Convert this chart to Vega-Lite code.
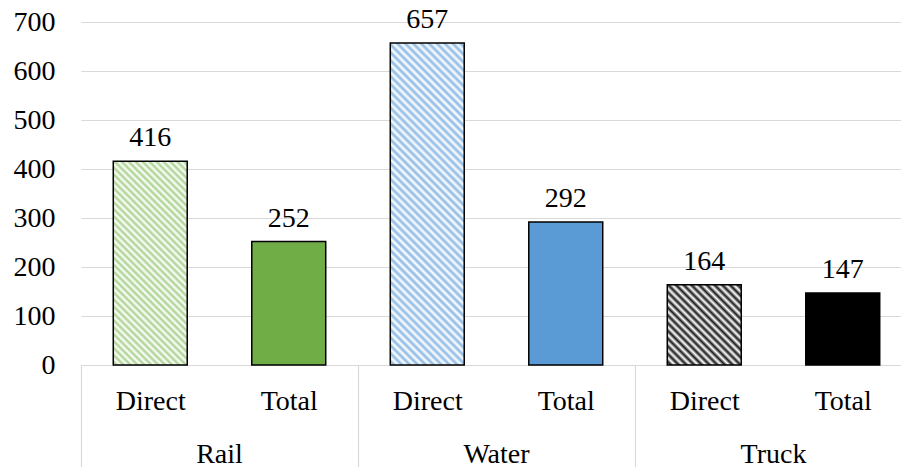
{
  "$schema": "https://vega.github.io/schema/vega-lite/v6.json",
  "autosize": {"type": "none"},
  "width": 820,
  "height": 343,
  "padding": {"left": 81, "top": 22, "right": 0, "bottom": 102},
  "background": "#ffffff",
  "config": {
    "font": "Liberation Serif, Times New Roman, serif",
    "view": {"stroke": null},
    "axis": {"labelFont": "Liberation Serif, Times New Roman, serif", "labelColor": "#000000", "labelFontSize": 28},
    "text": {"font": "Liberation Serif, Times New Roman, serif"}
  },
  "data": {
    "values": [
      {"mode": "Rail", "type": "Direct", "key": "Rail-Direct", "value": 416},
      {"mode": "Rail", "type": "Total", "key": "Rail-Total", "value": 252},
      {"mode": "Water", "type": "Direct", "key": "Water-Direct", "value": 657},
      {"mode": "Water", "type": "Total", "key": "Water-Total", "value": 292},
      {"mode": "Truck", "type": "Direct", "key": "Truck-Direct", "value": 164},
      {"mode": "Truck", "type": "Total", "key": "Truck-Total", "value": 147}
    ]
  },
  "resolve": {"scale": {"x": "independent"}, "axis": {"x": "independent"}},
  "layer": [
    {
      "mark": {"type": "bar", "stroke": "#000000", "strokeWidth": 1.5},
      "encoding": {
        "x": {
          "field": "mode", "type": "nominal", "sort": ["Rail", "Water", "Truck"],
          "scale": {"domain": ["Rail", "Water", "Truck"], "range": [0, 831], "paddingInner": 0, "paddingOuter": 0},
          "axis": {"orient": "bottom", "title": null, "ticks": true, "tickSize": 102, "tickColor": "#d9d9d9", "tickWidth": 1.2, "bandPosition": 0, "domainColor": "#d9d9d9", "domainWidth": 1.2, "labelPadding": -5, "labelBaseline": "alphabetic", "labelAngle": 0, "grid": false, "labelFont": "Liberation Serif, Times New Roman, serif", "labelFontSize": 28, "labelColor": "#000000", "labelExpr": "datum.label"}
        },
        "xOffset": {
          "field": "type", "type": "nominal",
          "scale": {"domain": ["Direct", "Total"], "paddingInner": 0.466, "paddingOuter": 0.233}
        },
        "y": {
          "field": "value", "type": "quantitative",
          "scale": {"domain": [0, 700], "nice": false},
          "axis": {"title": null, "values": [0, 100, 200, 300, 400, 500, 600, 700], "grid": true, "gridColor": "#d9d9d9", "gridWidth": 1.2, "domain": false, "ticks": false, "labelPadding": 26, "labelFont": "Liberation Serif, Times New Roman, serif", "labelFontSize": 28, "labelColor": "#000000", "labelExpr": "datum.label"}
        },
        "fill": {
          "condition": [
            {"test": "datum.mode === 'Rail' && datum.type === 'Direct'", "value": {"gradient": "linear", "x1": 0, "y1": 1, "x2": 0.4372, "y2": -0.2043, "stops": [{"offset":0,"color":"#fff"},{"offset":0.0125,"color":"#a9d18e"},{"offset":0.025,"color":"#fff"},{"offset":0.0375,"color":"#a9d18e"},{"offset":0.05,"color":"#fff"},{"offset":0.0625,"color":"#a9d18e"},{"offset":0.075,"color":"#fff"},{"offset":0.0875,"color":"#a9d18e"},{"offset":0.1,"color":"#fff"},{"offset":0.1125,"color":"#a9d18e"},{"offset":0.125,"color":"#fff"},{"offset":0.1375,"color":"#a9d18e"},{"offset":0.15,"color":"#fff"},{"offset":0.1625,"color":"#a9d18e"},{"offset":0.175,"color":"#fff"},{"offset":0.1875,"color":"#a9d18e"},{"offset":0.2,"color":"#fff"},{"offset":0.2125,"color":"#a9d18e"},{"offset":0.225,"color":"#fff"},{"offset":0.2375,"color":"#a9d18e"},{"offset":0.25,"color":"#fff"},{"offset":0.2625,"color":"#a9d18e"},{"offset":0.275,"color":"#fff"},{"offset":0.2875,"color":"#a9d18e"},{"offset":0.3,"color":"#fff"},{"offset":0.3125,"color":"#a9d18e"},{"offset":0.325,"color":"#fff"},{"offset":0.3375,"color":"#a9d18e"},{"offset":0.35,"color":"#fff"},{"offset":0.3625,"color":"#a9d18e"},{"offset":0.375,"color":"#fff"},{"offset":0.3875,"color":"#a9d18e"},{"offset":0.4,"color":"#fff"},{"offset":0.4125,"color":"#a9d18e"},{"offset":0.425,"color":"#fff"},{"offset":0.4375,"color":"#a9d18e"},{"offset":0.45,"color":"#fff"},{"offset":0.4625,"color":"#a9d18e"},{"offset":0.475,"color":"#fff"},{"offset":0.4875,"color":"#a9d18e"},{"offset":0.5,"color":"#fff"},{"offset":0.5125,"color":"#a9d18e"},{"offset":0.525,"color":"#fff"},{"offset":0.5375,"color":"#a9d18e"},{"offset":0.55,"color":"#fff"},{"offset":0.5625,"color":"#a9d18e"},{"offset":0.575,"color":"#fff"},{"offset":0.5875,"color":"#a9d18e"},{"offset":0.6,"color":"#fff"},{"offset":0.6125,"color":"#a9d18e"},{"offset":0.625,"color":"#fff"},{"offset":0.6375,"color":"#a9d18e"},{"offset":0.65,"color":"#fff"},{"offset":0.6625,"color":"#a9d18e"},{"offset":0.675,"color":"#fff"},{"offset":0.6875,"color":"#a9d18e"},{"offset":0.7,"color":"#fff"},{"offset":0.7125,"color":"#a9d18e"},{"offset":0.725,"color":"#fff"},{"offset":0.7375,"color":"#a9d18e"},{"offset":0.75,"color":"#fff"},{"offset":0.7625,"color":"#a9d18e"},{"offset":0.775,"color":"#fff"},{"offset":0.7875,"color":"#a9d18e"},{"offset":0.8,"color":"#fff"},{"offset":0.8125,"color":"#a9d18e"},{"offset":0.825,"color":"#fff"},{"offset":0.8375,"color":"#a9d18e"},{"offset":0.85,"color":"#fff"},{"offset":0.8625,"color":"#a9d18e"},{"offset":0.875,"color":"#fff"},{"offset":0.8875,"color":"#a9d18e"},{"offset":0.9,"color":"#fff"},{"offset":0.9125,"color":"#a9d18e"},{"offset":0.925,"color":"#fff"},{"offset":0.9375,"color":"#a9d18e"},{"offset":0.95,"color":"#fff"},{"offset":0.9625,"color":"#a9d18e"},{"offset":0.975,"color":"#fff"},{"offset":0.9875,"color":"#a9d18e"},{"offset":1,"color":"#fff"}]}},
            {"test": "datum.mode === 'Water' && datum.type === 'Direct'", "value": {"gradient": "linear", "x1": 0, "y1": 1, "x2": 0.2685, "y2": -0.1681, "stops": [{"offset":0,"color":"#fff"},{"offset":0.01,"color":"#8ab8e4"},{"offset":0.02,"color":"#fff"},{"offset":0.03,"color":"#8ab8e4"},{"offset":0.04,"color":"#fff"},{"offset":0.05,"color":"#8ab8e4"},{"offset":0.06,"color":"#fff"},{"offset":0.07,"color":"#8ab8e4"},{"offset":0.08,"color":"#fff"},{"offset":0.09,"color":"#8ab8e4"},{"offset":0.1,"color":"#fff"},{"offset":0.11,"color":"#8ab8e4"},{"offset":0.12,"color":"#fff"},{"offset":0.13,"color":"#8ab8e4"},{"offset":0.14,"color":"#fff"},{"offset":0.15,"color":"#8ab8e4"},{"offset":0.16,"color":"#fff"},{"offset":0.17,"color":"#8ab8e4"},{"offset":0.18,"color":"#fff"},{"offset":0.19,"color":"#8ab8e4"},{"offset":0.2,"color":"#fff"},{"offset":0.21,"color":"#8ab8e4"},{"offset":0.22,"color":"#fff"},{"offset":0.23,"color":"#8ab8e4"},{"offset":0.24,"color":"#fff"},{"offset":0.25,"color":"#8ab8e4"},{"offset":0.26,"color":"#fff"},{"offset":0.27,"color":"#8ab8e4"},{"offset":0.28,"color":"#fff"},{"offset":0.29,"color":"#8ab8e4"},{"offset":0.3,"color":"#fff"},{"offset":0.31,"color":"#8ab8e4"},{"offset":0.32,"color":"#fff"},{"offset":0.33,"color":"#8ab8e4"},{"offset":0.34,"color":"#fff"},{"offset":0.35,"color":"#8ab8e4"},{"offset":0.36,"color":"#fff"},{"offset":0.37,"color":"#8ab8e4"},{"offset":0.38,"color":"#fff"},{"offset":0.39,"color":"#8ab8e4"},{"offset":0.4,"color":"#fff"},{"offset":0.41,"color":"#8ab8e4"},{"offset":0.42,"color":"#fff"},{"offset":0.43,"color":"#8ab8e4"},{"offset":0.44,"color":"#fff"},{"offset":0.45,"color":"#8ab8e4"},{"offset":0.46,"color":"#fff"},{"offset":0.47,"color":"#8ab8e4"},{"offset":0.48,"color":"#fff"},{"offset":0.49,"color":"#8ab8e4"},{"offset":0.5,"color":"#fff"},{"offset":0.51,"color":"#8ab8e4"},{"offset":0.52,"color":"#fff"},{"offset":0.53,"color":"#8ab8e4"},{"offset":0.54,"color":"#fff"},{"offset":0.55,"color":"#8ab8e4"},{"offset":0.56,"color":"#fff"},{"offset":0.57,"color":"#8ab8e4"},{"offset":0.58,"color":"#fff"},{"offset":0.59,"color":"#8ab8e4"},{"offset":0.6,"color":"#fff"},{"offset":0.61,"color":"#8ab8e4"},{"offset":0.62,"color":"#fff"},{"offset":0.63,"color":"#8ab8e4"},{"offset":0.64,"color":"#fff"},{"offset":0.65,"color":"#8ab8e4"},{"offset":0.66,"color":"#fff"},{"offset":0.67,"color":"#8ab8e4"},{"offset":0.68,"color":"#fff"},{"offset":0.69,"color":"#8ab8e4"},{"offset":0.7,"color":"#fff"},{"offset":0.71,"color":"#8ab8e4"},{"offset":0.72,"color":"#fff"},{"offset":0.73,"color":"#8ab8e4"},{"offset":0.74,"color":"#fff"},{"offset":0.75,"color":"#8ab8e4"},{"offset":0.76,"color":"#fff"},{"offset":0.77,"color":"#8ab8e4"},{"offset":0.78,"color":"#fff"},{"offset":0.79,"color":"#8ab8e4"},{"offset":0.8,"color":"#fff"},{"offset":0.81,"color":"#8ab8e4"},{"offset":0.82,"color":"#fff"},{"offset":0.83,"color":"#8ab8e4"},{"offset":0.84,"color":"#fff"},{"offset":0.85,"color":"#8ab8e4"},{"offset":0.86,"color":"#fff"},{"offset":0.87,"color":"#8ab8e4"},{"offset":0.88,"color":"#fff"},{"offset":0.89,"color":"#8ab8e4"},{"offset":0.9,"color":"#fff"},{"offset":0.91,"color":"#8ab8e4"},{"offset":0.92,"color":"#fff"},{"offset":0.93,"color":"#8ab8e4"},{"offset":0.94,"color":"#fff"},{"offset":0.95,"color":"#8ab8e4"},{"offset":0.96,"color":"#fff"},{"offset":0.97,"color":"#8ab8e4"},{"offset":0.98,"color":"#fff"},{"offset":0.99,"color":"#8ab8e4"},{"offset":1,"color":"#fff"}]}},
            {"test": "datum.mode === 'Truck' && datum.type === 'Direct'", "value": {"gradient": "linear", "x1": 0, "y1": 1, "x2": 0.9572, "y2": -0.0395, "stops": [{"offset":0,"color":"#fff"},{"offset":0.025,"color":"#1a1a1a"},{"offset":0.05,"color":"#fff"},{"offset":0.075,"color":"#1a1a1a"},{"offset":0.1,"color":"#fff"},{"offset":0.125,"color":"#1a1a1a"},{"offset":0.15,"color":"#fff"},{"offset":0.175,"color":"#1a1a1a"},{"offset":0.2,"color":"#fff"},{"offset":0.225,"color":"#1a1a1a"},{"offset":0.25,"color":"#fff"},{"offset":0.275,"color":"#1a1a1a"},{"offset":0.3,"color":"#fff"},{"offset":0.325,"color":"#1a1a1a"},{"offset":0.35,"color":"#fff"},{"offset":0.375,"color":"#1a1a1a"},{"offset":0.4,"color":"#fff"},{"offset":0.425,"color":"#1a1a1a"},{"offset":0.45,"color":"#fff"},{"offset":0.475,"color":"#1a1a1a"},{"offset":0.5,"color":"#fff"},{"offset":0.525,"color":"#1a1a1a"},{"offset":0.55,"color":"#fff"},{"offset":0.575,"color":"#1a1a1a"},{"offset":0.6,"color":"#fff"},{"offset":0.625,"color":"#1a1a1a"},{"offset":0.65,"color":"#fff"},{"offset":0.675,"color":"#1a1a1a"},{"offset":0.7,"color":"#fff"},{"offset":0.725,"color":"#1a1a1a"},{"offset":0.75,"color":"#fff"},{"offset":0.775,"color":"#1a1a1a"},{"offset":0.8,"color":"#fff"},{"offset":0.825,"color":"#1a1a1a"},{"offset":0.85,"color":"#fff"},{"offset":0.875,"color":"#1a1a1a"},{"offset":0.9,"color":"#fff"},{"offset":0.925,"color":"#1a1a1a"},{"offset":0.95,"color":"#fff"},{"offset":0.975,"color":"#1a1a1a"},{"offset":1,"color":"#fff"}]}},
            {"test": "datum.mode === 'Rail'", "value": "#70ad47"},
            {"test": "datum.mode === 'Water'", "value": "#5b9bd5"}
          ],
          "value": "#000000"
        }
      }
    },
    {
      "mark": {"type": "text", "font": "Liberation Serif, Times New Roman, serif", "fontSize": 28, "color": "#000000", "baseline": "alphabetic", "dy": -15},
      "encoding": {
        "x": {
          "field": "key", "type": "nominal",
          "scale": {"domain": ["Rail-Direct", "Rail-Total", "Water-Direct", "Water-Total", "Truck-Direct", "Truck-Total"], "range": [0, 831], "paddingInner": 0.466, "paddingOuter": 0.233},
          "axis": {"orient": "bottom", "title": null, "ticks": false, "tickSize": 0, "domain": false, "grid": false, "labelPadding": 44, "labelBaseline": "alphabetic", "labelAngle": 0, "labelExpr": "split(datum.value, '-')[1]", "labelFont": "Liberation Serif, Times New Roman, serif", "labelFontSize": 28, "labelColor": "#000000"}
        },
        "y": {"field": "value", "type": "quantitative"},
        "text": {"field": "value", "type": "quantitative"}
      }
    }
  ]
}
